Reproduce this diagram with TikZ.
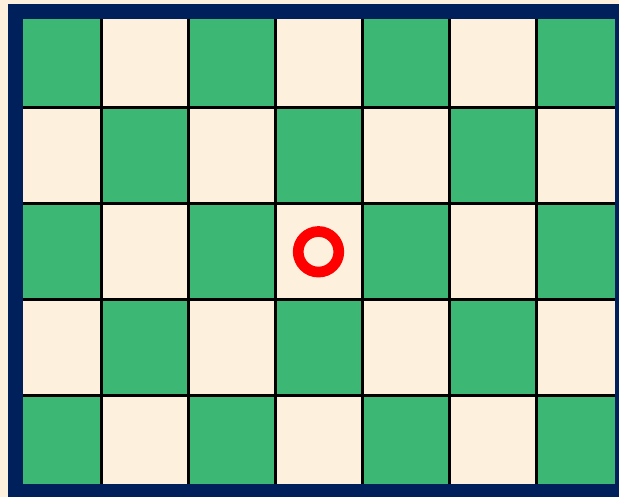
\documentclass[tikz,border=0pt]{standalone}
\usepackage{tikz}
\definecolor{boardgreen}{RGB}{60,183,116}
\definecolor{boardcream}{RGB}{253,241,221}
\definecolor{framenavy}{RGB}{0,32,91}
\begin{document}
\begin{tikzpicture}[x=1pt,y=-1pt,line width=3pt]
  \useasboundingbox (0,0) rectangle (619,497);
  \fill[boardcream] (0,0) rectangle (619,497);

  % squares: green where column+row is even
  \foreach \c in {0,2,4,6} {
    \foreach \r in {0,2,4} {
      \fill[boardgreen] (14+87*\c,11.5+96.1*\r) rectangle ++(87,96.1);
    }
  }
  \foreach \c in {1,3,5} {
    \foreach \r in {1,3} {
      \fill[boardgreen] (14+87*\c,11.5+96.1*\r) rectangle ++(87,96.1);
    }
  }

  % grid lines
  \foreach \c in {1,...,6} {
    \draw (14+87*\c,11.5) -- (14+87*\c,492);
  }
  \foreach \r in {1,...,4} {
    \draw (14,11.5+96.1*\r) -- (623,11.5+96.1*\r);
  }

  % frame
  \draw[framenavy,line width=15pt] (15.5,11.5) rectangle (622.5,491.5);

  % marker
  \node[circle,draw=red,line width=10.7pt,minimum size=40.6pt,inner sep=0pt] (ring) at (318.5,251.8) {};
\end{tikzpicture}
\end{document}
